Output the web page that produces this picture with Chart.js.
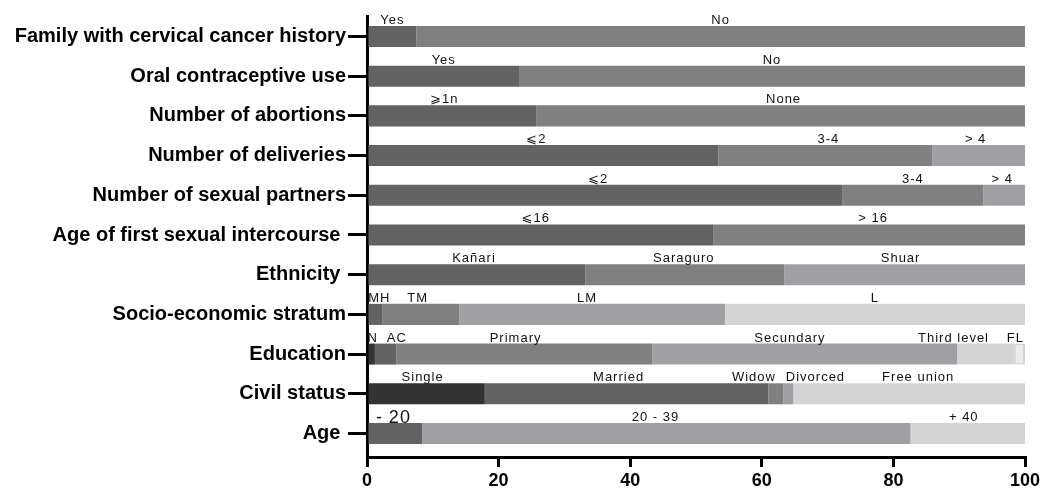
<!DOCTYPE html>
<html>
<head>
<meta charset="utf-8">
<script src="https://cdn.jsdelivr.net/npm/chart.js@4.4.1/dist/chart.umd.min.js"></script>
<style>
    html, body { margin: 0; padding: 0; background: #ffffff; }
</style>
</head>
<body>
<canvas id="chart" width="1046" height="488"></canvas>
<script>
const categories = [
    "Family with cervical cancer history",
    "Oral contraceptive use",
    "Number of abortions",
    "Number of deliveries",
    "Number of sexual partners",
    "Age of first sexual intercourse ",
    "Ethnicity ",
    "Socio-economic stratum",
    "Education",
    "Civil status",
    "Age "
];

// percentages, left to right inside each bar
const familyHistory = [7.5, 92.5];
const oralContraceptive = [23.1, 76.9];
const abortions = [25.7, 74.3];
const deliveries = [53.4, 32.5, 14.1];
const sexualPartners = [72.2, 21.5, 6.3];
const firstIntercourse = [52.6, 47.4];
const ethnicity = [33.2, 30.2, 36.6];
const socioEconomic = [2.3, 11.7, 40.4, 45.6];
const education = [1.2, 3.3, 38.9, 46.3, 8.6, 1.7];
const civilStatus = [17.9, 43.1, 2.3, 1.5, 35.2];
const age = [8.4, 74.2, 17.4];

const segmentNames = [
    ["Yes", "No"],
    ["Yes", "No"],
    ["\u2A7E1n", "None"],
    ["\u2A7D2", "3-4", "> 4"],
    ["\u2A7D2", "3-4", "> 4"],
    ["\u2A7D16", "> 16"],
    ["Kañari", "Saraguro", "Shuar"],
    ["MH", "TM", "LM", "L"],
    ["N", "AC", "Primary", "Secundary", "Third level", "FL"],
    ["Single", "Married", "Widow", "Divorced", "Free union"],
    ["- 20", "20 - 39", "+ 40"]
];

const rows = [
    familyHistory, oralContraceptive, abortions, deliveries, sexualPartners,
    firstIntercourse, ethnicity, socioEconomic, education, civilStatus, age
];

// styling, kept apart from the values
const palette = ["#333333", "#636363", "#808080", "#a0a0a4", "#d4d4d4", "#ebebeb"];
const shades = [
    [1, 2], [1, 2], [1, 2], [1, 2, 3], [1, 2, 3], [1, 2], [1, 2, 3],
    [1, 2, 3, 4], [0, 1, 2, 3, 4, 5], [0, 1, 2, 3, 4], [1, 3, 4]
];
const labelNudge = [
    [0, 0], [0, 0], [-8, 3], [-7, 3, -3], [-7, 0, -2], [-5, 4], [-3, -1, -4],
    [4, -3, -5, 0], [1, 11, -9, -15, -32, -4], [-4, -8, -22, 27, 9], [-2, -11, -4]
];

const fontFamily = '"Liberation Sans", Arial, "DejaVu Sans", sans-serif';

const layers = Math.max(...rows.map(r => r.length));
const datasets = [];
for (let i = 0; i < layers; i++) {
    datasets.push({
        data: rows.map(r => (r[i] === undefined ? null : r[i])),
        backgroundColor: shades.map(s => (s[i] === undefined ? "transparent" : palette[s[i]])),
        borderColor: "#d4d4d4",
        borderWidth: i === 5 ? 2 : 0,
        borderSkipped: false,
        barPercentage: 0.53,
        categoryPercentage: 1
    });
}

const segmentLabels = {
    id: "segmentLabels",
    afterDatasetsDraw(chart) {
        const ctx = chart.ctx;
        ctx.save();
        ctx.fillStyle = "#111111";
        ctx.textAlign = "center";
        ctx.textBaseline = "alphabetic";
        ctx.letterSpacing = "1px";
        chart.data.datasets.forEach((ds, i) => {
            const meta = chart.getDatasetMeta(i);
            meta.data.forEach((bar, j) => {
                const name = segmentNames[j][i];
                if (!name) return;
                const p = bar.getProps(["x", "y", "base", "height"], true);
                const big = name === "- 20";
                ctx.font = (big ? "18px " : "13px ") + fontFamily;
                ctx.fillText(
                    name,
                    (p.x + p.base) / 2 + labelNudge[j][i],
                    p.y - p.height / 2 - (big ? 0 : 2)
                );
            });
        });
        ctx.restore();
    }
};

new Chart(document.getElementById("chart"), {
    type: "bar",
    data: { labels: categories.map((c, i) => i), datasets: datasets },
    plugins: [segmentLabels],
    options: {
        indexAxis: "y",
        responsive: false,
        animation: false,
        layout: { padding: { top: 16, right: 21, left: 0, bottom: 0 } },
        plugins: {
            legend: { display: false },
            tooltip: { enabled: false }
        },
        scales: {
            x: {
                stacked: true,
                min: 0,
                max: 100,
                ticks: {
                    stepSize: 20,
                    color: "#000000",
                    padding: 3,
                    font: { family: fontFamily, size: 18, weight: "bold" }
                },
                grid: {
                    drawOnChartArea: false,
                    drawTicks: true,
                    tickLength: 10,
                    lineWidth: 3,
                    color: "#000000"
                },
                border: { display: true, width: 3, color: "#000000" },
                afterFit(axis) { axis.height = 31; }
            },
            y: {
                type: "linear",
                stacked: true,
                reverse: true,
                offset: false,
                min: -0.516,
                max: 10.592,
                ticks: {
                    stepSize: 1,
                    includeBounds: false,
                    autoSkip: false,
                    color: "#000000",
                    padding: 2,
                    font: { family: fontFamily, size: 20, weight: "bold" },
                    callback: value => (Number.isInteger(value) ? categories[value] : "")
                },
                grid: {
                    offset: false,
                    drawOnChartArea: false,
                    drawTicks: true,
                    tickLength: 19,
                    lineWidth: 3,
                    color: "#000000"
                },
                border: { display: true, width: 3, color: "#000000" },
                afterFit(axis) { axis.width = 367; }
            }
        }
    }
});
</script>
</body>
</html>
